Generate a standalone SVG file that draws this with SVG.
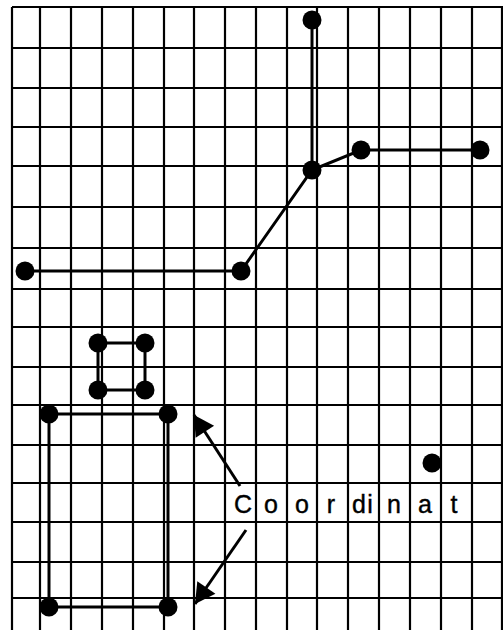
<svg xmlns="http://www.w3.org/2000/svg" width="503" height="630" viewBox="0 0 503 630">
<style>
.grid line{stroke:#000;stroke-width:2.2}
.conn line,.conn polyline{stroke:#000;stroke-width:3;fill:none}
.dot{fill:#000}
.lbl{font-family:"Liberation Sans",Arial,sans-serif;font-size:25px;fill:#000;stroke:#000;stroke-width:0.4;text-anchor:middle}
</style>
<defs>
<marker id="ah" markerUnits="userSpaceOnUse" markerWidth="24" markerHeight="24" viewBox="-20 -12 22 24" refX="0" refY="0" orient="auto">
<path d="M0,0 L-20,-11 L-20,11 Z" fill="#000"/>
</marker>
</defs>
<rect width="503" height="630" fill="#fff"/>
<g class="grid" id="grid">
<line x1="12" y1="7" x2="12" y2="630"/>
<line x1="40" y1="7" x2="40" y2="630"/>
<line x1="71" y1="7" x2="71" y2="630"/>
<line x1="102" y1="7" x2="102" y2="630"/>
<line x1="133" y1="7" x2="133" y2="630"/>
<line x1="164" y1="7" x2="164" y2="630"/>
<line x1="194" y1="7" x2="194" y2="630"/>
<line x1="225" y1="7" x2="225" y2="630"/>
<line x1="256" y1="7" x2="256" y2="630"/>
<line x1="287" y1="7" x2="287" y2="630"/>
<line x1="317" y1="7" x2="317" y2="630"/>
<line x1="348" y1="7" x2="348" y2="630"/>
<line x1="379" y1="7" x2="379" y2="630"/>
<line x1="410" y1="7" x2="410" y2="630"/>
<line x1="441" y1="7" x2="441" y2="630"/>
<line x1="472" y1="7" x2="472" y2="630"/>
<line x1="502" y1="7" x2="502" y2="630"/>
<line x1="12" y1="7" x2="503" y2="7"/>
<line x1="12" y1="48" x2="503" y2="48"/>
<line x1="12" y1="88" x2="503" y2="88"/>
<line x1="12" y1="127" x2="503" y2="127"/>
<line x1="12" y1="166" x2="503" y2="166"/>
<line x1="12" y1="207" x2="503" y2="207"/>
<line x1="12" y1="248" x2="503" y2="248"/>
<line x1="12" y1="289" x2="503" y2="289"/>
<line x1="12" y1="327" x2="503" y2="327"/>
<line x1="12" y1="367" x2="503" y2="367"/>
<line x1="12" y1="405" x2="503" y2="405"/>
<line x1="12" y1="445" x2="503" y2="445"/>
<line x1="12" y1="483" x2="503" y2="483"/>
<line x1="12" y1="522" x2="503" y2="522"/>
<line x1="12" y1="562" x2="503" y2="562"/>
<line x1="12" y1="598" x2="503" y2="598"/>
</g>
<g class="conn" id="connectors">
<line x1="312" y1="20" x2="312" y2="170"/>
<polyline points="480,150 361,150 312,170 241,271 25,271"/>
<line x1="98" y1="343" x2="145" y2="343"/>
<line x1="98" y1="343" x2="98" y2="390"/>
<line x1="145" y1="343" x2="145" y2="390"/>
<line x1="98" y1="390" x2="145" y2="390"/>
<line x1="49" y1="414" x2="168" y2="414"/>
<line x1="49" y1="414" x2="49" y2="607"/>
<line x1="168" y1="414" x2="168" y2="607"/>
<line x1="49" y1="607" x2="168" y2="607"/>
<line x1="240" y1="486" x2="194" y2="415" marker-end="url(#ah)"/>
<line x1="246" y1="530" x2="195" y2="604" marker-end="url(#ah)"/>
</g>
<g id="nodes">
<circle id="n1" class="dot" cx="312" cy="20" r="9.5"/>
<circle id="n2" class="dot" cx="312" cy="170" r="9.5"/>
<circle id="n3" class="dot" cx="361" cy="150" r="9.5"/>
<circle id="n4" class="dot" cx="480" cy="150" r="9.5"/>
<circle id="n5" class="dot" cx="241" cy="271" r="9.5"/>
<circle id="n6" class="dot" cx="25" cy="271" r="9.5"/>
<circle id="n7" class="dot" cx="98" cy="343" r="9.5"/>
<circle id="n8" class="dot" cx="145" cy="343" r="9.5"/>
<circle id="n9" class="dot" cx="98" cy="390" r="9.5"/>
<circle id="n10" class="dot" cx="145" cy="390" r="9.5"/>
<circle id="n11" class="dot" cx="49" cy="414" r="9.5"/>
<circle id="n12" class="dot" cx="168" cy="414" r="9.5"/>
<circle id="n13" class="dot" cx="49" cy="607" r="9.5"/>
<circle id="n14" class="dot" cx="168" cy="607" r="9.5"/>
<circle id="n15" class="dot" cx="432" cy="463" r="9.5"/>
</g>
<g id="label">
<text class="lbl" x="243 271 302 331 359 370 394 425 454" y="513">Coordinat</text>
</g>
</svg>
